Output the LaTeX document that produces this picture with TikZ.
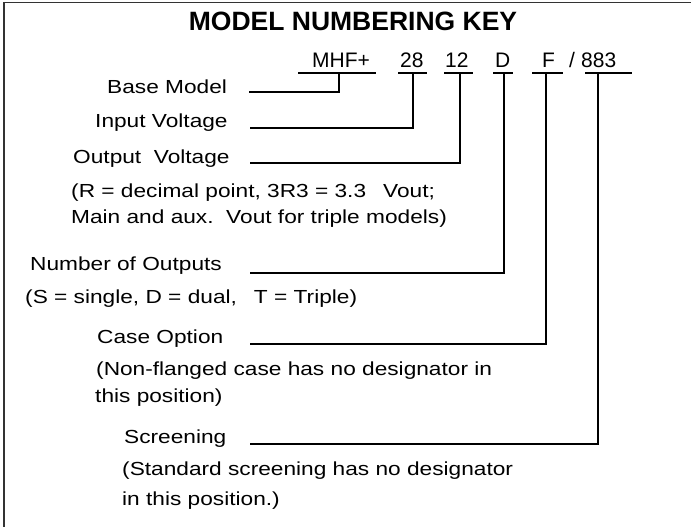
\documentclass[tikz,border=0pt]{standalone}
\usepackage{fontspec}
\setmainfont{Liberation Sans}
\newfontfamily\bodyfont[FakeStretch=1.2]{Liberation Sans}
\newfontfamily\codefont{Liberation Sans}
\newfontfamily\titlefont{Liberation Sans Bold}
\begin{document}
\begin{tikzpicture}[x=1pt,y=-1pt,
  lbl/.style={anchor=base west,inner sep=0pt,font=\bodyfont\fontsize{18.9}{22}\selectfont},
  code/.style={anchor=base west,inner sep=0pt,font=\codefont\fontsize{21}{24}\selectfont},
  wire/.style={line width=2pt,black},
  frame/.style={line width=1.5pt,black!80}]
\useasboundingbox (0,0) rectangle (691,527);
\draw[frame] (4,527) -- (4,2.5) -- (691,2.5);
\node[anchor=base,inner sep=0pt,font=\titlefont\fontsize{26.5}{30}\selectfont] (title) at (353,31) {MODEL NUMBERING KEY};
% code row
\node[code] (cMHF) at (312,67) {MHF+};
\node[code] (c28) at (400,67) {28};
\node[code] (c12) at (445,67) {12};
\node[code] (cD) at (495,67) {D};
\node[code] (cF) at (542,67) {F};
\node[code] (cSl) at (569,67) {/};
\node[code] (c883) at (581,67) {883};
% labels
\node[lbl] (base) at (107,94) {Base Model};
\node[lbl] (inv) at (95,128) {Input Voltage};
\node[lbl] (outv) at (73,163) {Output\ \ Voltage};
\node[lbl] (outn1) at (71,197) {(R = decimal point, 3R3 = 3.3\hspace{0.9em}Vout;};
\node[lbl] (outn2) at (71,223) {Main and aux.\ \ Vout for triple models)};
\node[lbl] (nout) at (30,270) {Number of Outputs};
\node[lbl] (noutn) at (25,303) {(S = single, D = dual,\hspace{0.9em}T = Triple)};
\node[lbl] (case) at (97,343) {Case Option};
\node[lbl] (casen1) at (96,375) {(Non-flanged case has no designator in};
\node[lbl] (casen2) at (95,402) {this position)};
\node[lbl] (scr) at (124,443) {Screening};
\node[lbl] (scrn1) at (122,475) {(Standard screening has no designator};
\node[lbl] (scrn2) at (122,505) {in this position.)};
% connector points
\coordinate (uM1) at (298,73); \coordinate (uM2) at (376,73); \coordinate (jM) at (339,73);
\coordinate (kM) at (339,92); \coordinate (eM) at (249,92);
\coordinate (u28a) at (398,73); \coordinate (u28b) at (427,73); \coordinate (j28) at (413,73);
\coordinate (k28) at (413,128); \coordinate (e28) at (250,128);
\coordinate (u12a) at (444,73); \coordinate (u12b) at (473,73); \coordinate (j12) at (460,73);
\coordinate (k12) at (460,163); \coordinate (e12) at (250,163);
\coordinate (uDa) at (493,73); \coordinate (uDb) at (513,73); \coordinate (jD) at (504,73);
\coordinate (kD) at (504,273); \coordinate (eD) at (250,273);
\coordinate (uFa) at (532,73); \coordinate (uFb) at (563,73); \coordinate (jF) at (546,73);
\coordinate (kF) at (546,344); \coordinate (eF) at (250,344);
\coordinate (u8a) at (585,73); \coordinate (u8b) at (632,73); \coordinate (j8) at (598,73);
\coordinate (k8) at (598,444); \coordinate (e8) at (250,444);
\draw[wire] (uM1) -- (uM2); \draw[wire] (jM) -- (kM) -- (eM);
\draw[wire] (u28a) -- (u28b); \draw[wire] (j28) -- (k28) -- (e28);
\draw[wire] (u12a) -- (u12b); \draw[wire] (j12) -- (k12) -- (e12);
\draw[wire] (uDa) -- (uDb); \draw[wire] (jD) -- (kD) -- (eD);
\draw[wire] (uFa) -- (uFb); \draw[wire] (jF) -- (kF) -- (eF);
\draw[wire] (u8a) -- (u8b); \draw[wire] (j8) -- (k8) -- (e8);
\end{tikzpicture}
\end{document}
